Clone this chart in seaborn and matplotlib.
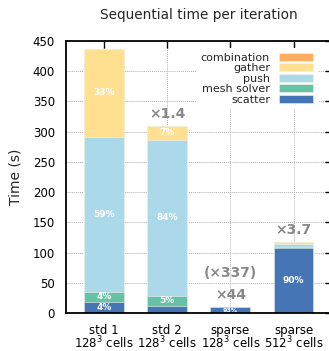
import matplotlib
matplotlib.use("Agg")
import matplotlib.pyplot as plt
import seaborn as sns
import pandas as pd
import numpy as np
from matplotlib.patches import Patch

# ---- data ----
categories = ["std 1\n128$^3$ cells", "std 2\n128$^3$ cells",
              "sparse\n128$^3$ cells", "sparse\n512$^3$ cells"]
scatter = [18.5, 12.0, 9.3, 107.0]
mesh_solver = [17.0, 16.5, 0.3, 2.5]
push = [256.0, 258.0, 0.3, 4.5]
gather = [145.5, 23.0, 0.3, 3.0]
combination = [0.5, 0.5, 0.1, 1.0]

lbl_scatter = ["4%", "", "93%", "90%"]
lbl_mesh = ["4%", "5%", "", ""]
lbl_push = ["59%", "84%", "", ""]
lbl_gather = ["33%", "7%", "", ""]
speedups = ["", "\u00d71.4", "\u00d744", "\u00d73.7"]
extra_speedup = ["", "", "(\u00d7337)", ""]

series_names = ["scatter", "mesh solver", "push", "gather", "combination"]
series_vals = [scatter, mesh_solver, push, gather, combination]
series_lbls = [lbl_scatter, lbl_mesh, lbl_push, lbl_gather, None]
colors = ["#4575b4", "#66c2a5", "#abd9e9", "#fee090", "#fdae61"]

sns.set_style("white")
plt.rcParams["font.family"] = ["DejaVu Sans"]

fig = plt.figure(figsize=(3.29, 3.51), dpi=100)
ax = fig.add_axes([66 / 329, 1 - 313 / 351, 265.5 / 329, 272 / 351])

cum = np.cumsum(np.array(series_vals), axis=0)
df = pd.DataFrame({"cat": categories})
# draw tallest cumulative first so shorter stacks overlay
for i in range(len(series_names) - 1, -1, -1):
    df["v"] = cum[i]
    sns.barplot(data=df, x="cat", y="v", color=colors[i], width=0.63,
                saturation=1, edgecolor="#f4f4ea", linewidth=0.4, ax=ax,
                zorder=2)

# percentage labels
for i, lbls in enumerate(series_lbls):
    if lbls is None:
        continue
    bottoms = cum[i] - np.array(series_vals[i])
    for j, t in enumerate(lbls):
        if t:
            fs = 4.5 if series_vals[i][j] < 12 and j == 2 else 6.5
            ax.text(j, bottoms[j] + series_vals[i][j] / 2, t, ha="center",
                    va="center", color="white", fontsize=fs,
                    fontweight="bold", zorder=4)

totals = cum[-1]
for j, t in enumerate(speedups):
    if t:
        ax.annotate(t, (j, totals[j]), xytext=(0, 3.5), textcoords="offset points",
                    ha="center", va="bottom", color="#888888", fontsize=10,
                    fontweight="bold", zorder=4)
for j, t in enumerate(extra_speedup):
    if t:
        ax.annotate(t, (j, totals[j]), xytext=(0, 19.5), textcoords="offset points",
                    ha="center", va="bottom", color="#888888", fontsize=10,
                    fontweight="bold", zorder=4)

ax.set_xlim(-0.6, 3.6)
ax.set_ylim(0, 450)
ax.set_yticks(range(0, 451, 50))
ax.set_xlabel("")
ax.set_ylabel("Time (s)", fontsize=10, labelpad=7)
ax.set_title("Sequential time per iteration", fontsize=9.8, pad=16)
ax.tick_params(direction="in", length=5, width=1, top=True, right=True,
               labelsize=8.5, colors="black")
ax.tick_params(axis="y", pad=8)
ax.tick_params(axis="x", pad=8)
for lab in ax.get_xticklabels():
    lab.set_fontsize(8.5)
    lab.set_linespacing(0.85)
ax.grid(True, linestyle=(0, (1, 1)), color="#b0b0b0", linewidth=0.7, zorder=0)
ax.set_axisbelow(True)
for s in ax.spines.values():
    s.set_linewidth(1.3)
    s.set_color("black")

handles = [Patch(facecolor=colors[i], edgecolor="#f4f4ea", linewidth=0.4,
                 label=series_names[i]) for i in range(len(series_names) - 1, -1, -1)]
leg = ax.legend(handles=handles, loc="upper right", markerfirst=False,
                fontsize=8, frameon=True, framealpha=1, edgecolor="none",
                handlelength=3.1, handleheight=0.7, labelspacing=0.05,
                bbox_to_anchor=(0.965, 0.99),
                borderaxespad=0.4, handletextpad=0.8, borderpad=0.4)
leg.get_frame().set_linewidth(0)
for t in leg.get_texts():
    t.set_ha("right")
leg._legend_box.align = "right"

fig.savefig("out.png", dpi=100)
